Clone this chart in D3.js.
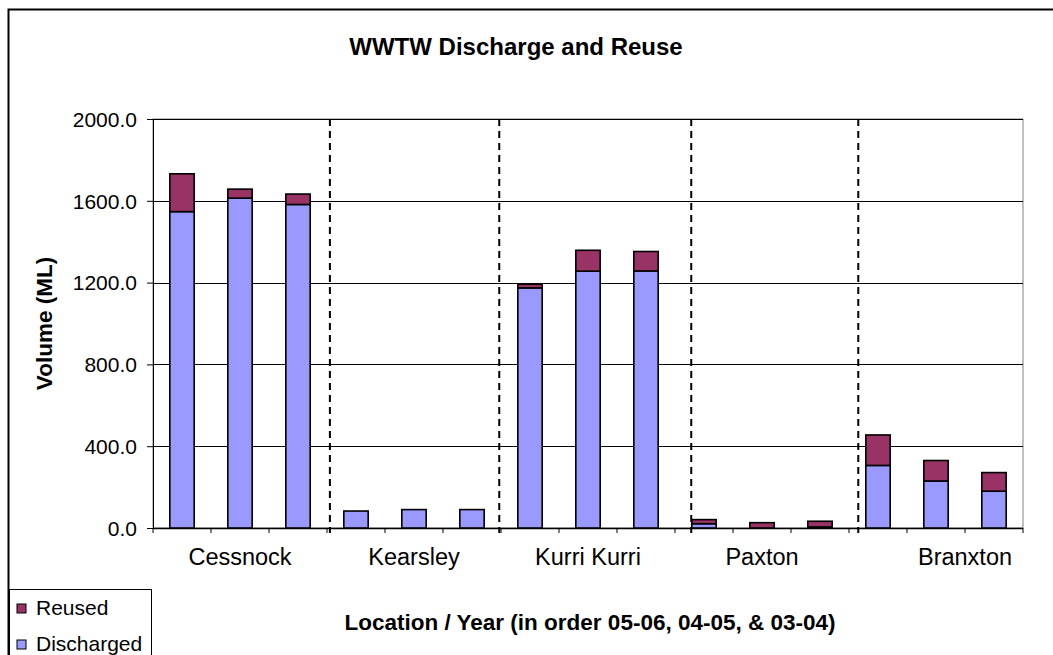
<!DOCTYPE html>
<html>
<head>
<meta charset="utf-8">
<script src="https://cdn.jsdelivr.net/npm/d3@7"></script>
<style>
  body { margin: 0; background: #fff; }
  text { font-family: Arial, "Liberation Sans", sans-serif; fill: #000; }
</style>
</head>
<body>
<script>
// sites, each with three years (05-06, 04-05, 03-04)
const sites = ["Cessnock", "Kearsley", "Kurri Kurri", "Paxton", "Branxton"];
const years = ["05-06", "04-05", "03-04"];
const discharged = [1547, 1613, 1582, 83, 90, 90, 1174, 1256, 1257, 21, 0, 5, 306, 230, 180];
const reused = [185, 44, 51, 0, 0, 0, 18, 102, 95, 20, 26, 28, 149, 100, 91];
const yTicks = [0, 400, 800, 1200, 1600, 2000];
// where the site names and dashed separators sit, in category units
const labelPos = [1.5, 4.5, 7.5, 10.5, 14];
const dividerPos = [3.05, 5.97, 9.28, 12.16];

const W = 1053, H = 655;
const margin = { top: 119, right: 30, bottom: 127, left: 153 };
const width = W - margin.left - margin.right;
const height = H - margin.top - margin.bottom;

// build rows for the stack
const cats = [];
sites.forEach((s, i) => years.forEach((y, j) => cats.push(s + " " + y)));
const rows = cats.map((c, i) => ({ cat: c, Discharged: discharged[i], Reused: reused[i] }));

const svg = d3.select("body").append("svg")
    .attr("width", W)
    .attr("height", H);

// outer chart border
svg.append("rect")
    .attr("x", 8.5).attr("y", 9.5)
    .attr("width", W + 20).attr("height", H + 20)
    .attr("fill", "#fff")
    .attr("stroke", "#000")
    .attr("stroke-width", 2);

svg.append("text")
    .attr("x", 516).attr("y", 55)
    .attr("text-anchor", "middle")
    .style("font-size", "24px")
    .style("font-weight", "bold")
    .text("WWTW Discharge and Reuse");

const g = svg.append("g")
    .attr("transform", "translate(" + margin.left + "," + margin.top + ")");

const x = d3.scaleBand().domain(cats).range([0, width]).padding(0);
const xPos = d3.scaleLinear().domain([0, cats.length]).range([0, width]);
const y = d3.scaleLinear().domain([0, 2000]).range([height, 0]);

// plot frame
g.append("rect")
    .attr("width", width).attr("height", height)
    .attr("fill", "#fff")
    .attr("stroke", "#808080")
    .attr("stroke-width", 1);

// gridlines
g.selectAll(".grid")
    .data(yTicks.slice(1))
    .enter().append("line")
    .attr("x1", 0).attr("x2", width)
    .attr("y1", d => Math.round(y(d)) + 0.5)
    .attr("y2", d => Math.round(y(d)) + 0.5)
    .attr("stroke", "#000")
    .attr("stroke-width", 1);

// y axis
const yAxis = g.append("g")
    .call(d3.axisLeft(y).tickValues(yTicks).tickSize(6).tickPadding(10).tickFormat(d3.format(".1f")));
yAxis.selectAll("text").style("font-size", "21px").attr("dy", "0.35em");
yAxis.select(".domain").attr("stroke", "#000");

// x axis ticks at every category boundary
const xTickVals = d3.range(cats.length + 1);
g.append("g")
    .attr("transform", "translate(0," + height + ")")
    .selectAll("line")
    .data(xTickVals)
    .enter().append("line")
    .attr("x1", d => xPos(d)).attr("x2", d => xPos(d))
    .attr("y1", 0).attr("y2", 5)
    .attr("stroke", "#000");
g.append("line")
    .attr("x1", 0).attr("x2", width)
    .attr("y1", height + 0.5).attr("y2", height + 0.5)
    .attr("stroke", "#000")
    .attr("stroke-width", 1.5);

// dashed separators
g.selectAll(".divider")
    .data(dividerPos)
    .enter().append("line")
    .attr("x1", d => xPos(d)).attr("x2", d => xPos(d))
    .attr("y1", 0).attr("y2", height + 5)
    .attr("stroke", "#000")
    .attr("stroke-width", 2)
    .attr("stroke-dasharray", "7,5");

// stacked bars
const colors = { Discharged: "#9999ff", Reused: "#993366" };
const stack = d3.stack().keys(["Discharged", "Reused"])(rows);
const barW = x.bandwidth() * 0.42;

stack.forEach(layer => {
    g.selectAll(".bar-" + layer.key)
        .data(layer.filter(d => d[1] - d[0] > 0))
        .enter().append("rect")
        .attr("x", d => x(d.data.cat) + (x.bandwidth() - barW) / 2)
        .attr("y", d => y(d[1]))
        .attr("width", barW)
        .attr("height", d => y(d[0]) - y(d[1]))
        .attr("fill", colors[layer.key])
        .attr("stroke", "#000")
        .attr("stroke-width", 1.6);
});

// site labels
g.selectAll(".site")
    .data(sites)
    .enter().append("text")
    .attr("x", (d, i) => xPos(labelPos[i]))
    .attr("y", height + 37)
    .attr("text-anchor", "middle")
    .style("font-size", "23.5px")
    .text(d => d);

// axis titles
svg.append("text")
    .attr("transform", "translate(52," + (margin.top + height / 2) + ") rotate(-90)")
    .attr("text-anchor", "middle")
    .style("font-size", "22.5px")
    .style("font-weight", "bold")
    .text("Volume (ML)");

svg.append("text")
    .attr("x", 590).attr("y", 630)
    .attr("text-anchor", "middle")
    .style("font-size", "22.5px")
    .style("font-weight", "bold")
    .text("Location / Year (in order 05-06, 04-05, & 03-04)");

// legend
const legend = svg.append("g");
legend.append("rect")
    .attr("x", 9.5).attr("y", 589.5)
    .attr("width", 142).attr("height", 80)
    .attr("fill", "#fff")
    .attr("stroke", "#000")
    .attr("stroke-width", 1);

const legendKeys = ["Reused", "Discharged"];
legendKeys.forEach((k, i) => {
    legend.append("rect")
        .attr("x", 17).attr("y", 604 + i * 36)
        .attr("width", 9).attr("height", 9)
        .attr("fill", colors[k])
        .attr("stroke", "#000")
        .attr("stroke-width", 1);
    legend.append("text")
        .attr("x", 36).attr("y", 615 + i * 36)
        .style("font-size", "21px")
        .text(k);
});
</script>
</body>
</html>
